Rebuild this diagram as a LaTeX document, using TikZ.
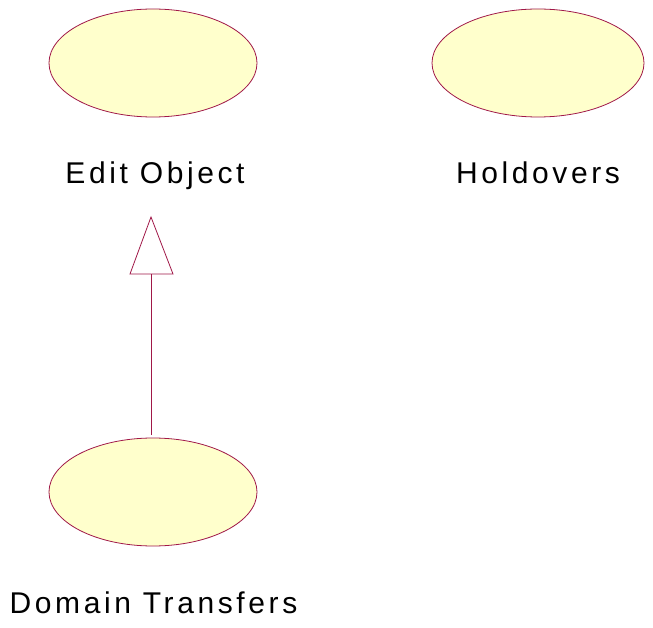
\documentclass[tikz,border=0pt]{standalone}
\usepackage{fontspec}
\setmainfont{Liberation Sans}[LetterSpace=12]
\usetikzlibrary{shapes.geometric}
\definecolor{umlborder}{RGB}{160,24,72}
\definecolor{umlfill}{RGB}{255,255,204}
\begin{document}
\begin{tikzpicture}[x=1pt,y=-1pt,
  usecase/.style={ellipse,draw=umlborder,fill=umlfill,line width=0.8pt,minimum width=208pt,minimum height=108pt,inner sep=0pt},
  lbl/.style={font=\fontsize{30}{34}\selectfont,inner sep=0pt,anchor=base}]
\useasboundingbox (0,0) rectangle (653,628);
\node[usecase] (edit) at (153,63) {};
\node[usecase,minimum width=212pt] (hold) at (538,63) {};
\node[usecase] (dom) at (153,492) {};
\node[lbl] (editl) at (155,183.5) {Edit Object};
\node[lbl] (holdl) at (538,183.5) {Holdovers};
\node[lbl] (doml) at (153.5,613) {Domain Transfers};
\coordinate (tip) at (151,217);
\coordinate (lineend) at (151,435);
\draw[umlborder,line width=0.8pt] (lineend) -- (151,274);
\draw[umlborder,line width=0.8pt,line join=miter] (tip) -- (173,274) -- (130,274) -- cycle;
\end{tikzpicture}
\end{document}
